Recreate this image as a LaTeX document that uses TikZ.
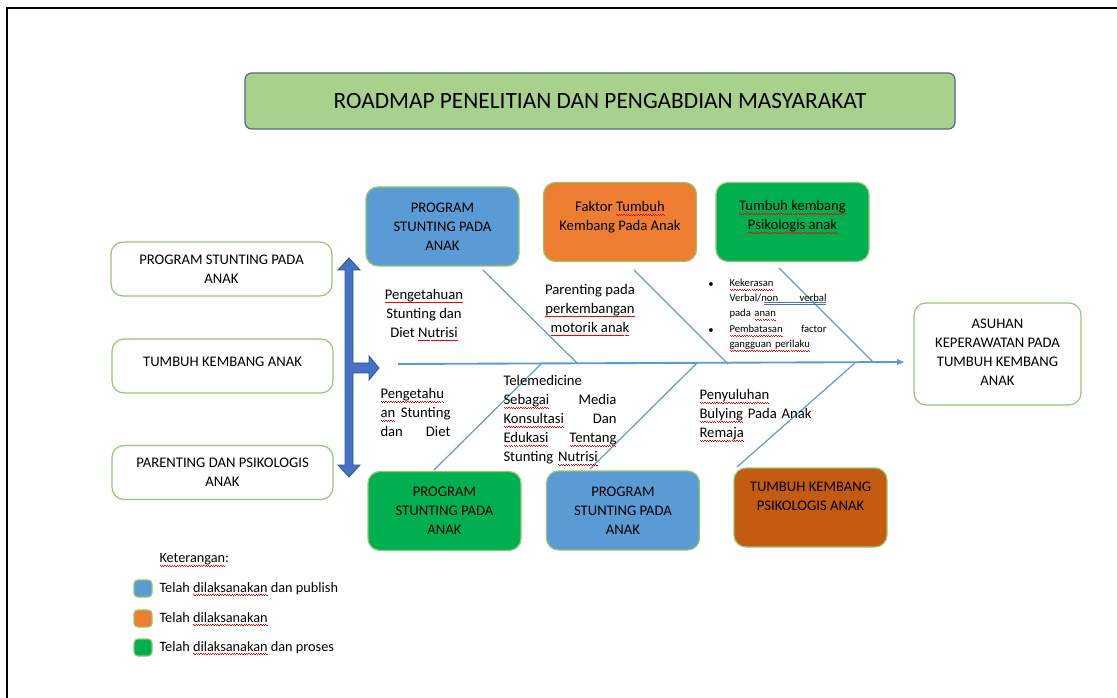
\documentclass[tikz,border=0pt]{standalone}
\usepackage{fontspec}
\setmainfont{Carlito}
\usetikzlibrary{arrows.meta}

\newsavebox\wavebox
\newcommand\wavepiece{\hbox{\rule[-2.2pt]{0.9pt}{0.4pt}\rule[-2.9pt]{0.9pt}{0.4pt}}}
\newcommand\spellwave[1]{\leavevmode\sbox\wavebox{#1}\rlap{\hbox to\wd\wavebox{\color{red}\xleaders\wavepiece\hfill}}\usebox\wavebox}
\newcommand\roadfont{\fontsize{11}{14.25}\selectfont}
\newcommand\roadsmall{\fontsize{8}{11}\selectfont}
\newcommand\roadkey{\fontsize{10.7}{12}\selectfont}
\newcommand\roadtitle{\fontsize{17.5}{20}\selectfont}

\definecolor{boxline}{RGB}{146,200,110}
\definecolor{boneblue}{RGB}{91,155,213}
\definecolor{doneblue}{RGB}{91,155,213}
\definecolor{doneorange}{RGB}{237,125,49}
\definecolor{donegreen}{RGB}{0,176,80}
\definecolor{darkorange}{RGB}{197,90,17}

\tikzset{every picture/.style={line width=0.75pt}}
\tikzset{
  box/.style={draw=boxline, line width=0.9pt, rounded corners=9pt, align=center, inner sep=0pt, font=\roadfont},
  sidebox/.style={box, fill=white, minimum width=165.75pt, minimum height=40.5pt},
  fishbox/.style={box, minimum width=114.75pt, minimum height=59.25pt},
  keybox/.style={box, rounded corners=3pt, minimum width=13.5pt, minimum height=12.75pt},
  bone/.style={draw=boneblue, line width=0.9pt},
  txt/.style={inner sep=0pt, font=\roadfont, align=center},
  jtxt/.style={inner sep=0pt, font=\roadfont, align=left, anchor=north west},
}

\begin{document}
\begin{tikzpicture}[x=0.75pt,y=0.75pt,yscale=-1,xscale=1]
\useasboundingbox (0,0) rectangle (1117,698);

% frame
\draw [line width=1.5pt] (1117,8) -- (7,8) -- (7,698);

% title
\node [box, draw={rgb, 255:red, 85; green, 104; blue, 122}, fill={rgb, 255:red, 169; green, 209; blue, 142}, rounded corners=5pt, minimum width=532.5pt, minimum height=42pt, font=\roadtitle] (title) at (600,101) {ROADMAP PENELITIAN DAN PENGABDIAN MASYARAKAT};

% left column
\node [sidebox] (prog) at (221.5,269) {PROGRAM STUNTING PADA\\ANAK};
\node [sidebox] (tumbuh) at (222.5,366) {};
\node [txt] (tumbuhT) at (222.5,362) {TUMBUH KEMBANG ANAK};
\node [sidebox] (parent) at (222.5,472.5) {PARENTING DAN PSIKOLOGIS\\ANAK};

% double arrow with branch
\draw [draw={rgb, 255:red, 47; green, 82; blue, 143}, fill={rgb, 255:red, 68; green, 114; blue, 196}, line width=0.6pt]
  (349,258) -- (360,270) -- (353,270) -- (353,363) -- (369,363) -- (369,356) -- (379,368) -- (369,380) -- (369,373) -- (353,373) -- (353,465) -- (360,465) -- (349,477) -- (338,465) -- (345,465) -- (345,270) -- (338,270) -- cycle;

% right box
\node [box, fill=white, minimum width=125.25pt, minimum height=76.5pt] (asuhan) at (997.5,354) {};
\node [txt] (asuhanT) at (997.5,352) {ASUHAN\\KEPERAWATAN PADA\\TUMBUH KEMBANG\\ANAK};

% spine
\coordinate (spineL) at (398,364);
\coordinate (spineR) at (905,362);
\draw [bone, line width=1.4pt, -{Latex[length=6pt,width=5pt]}] (spineL) -- (spineR);

% top boxes
\node [fishbox, fill=doneblue] (topA) at (442.5,226.5) {PROGRAM\\STUNTING PADA\\ANAK};
\node [fishbox, fill=doneorange] (topB) at (620,222) {};
\node [txt] (topBT) at (620,217) {Faktor \spellwave{Tumbuh}\\Kembang Pada Anak};
\node [fishbox, fill=donegreen] (topC) at (792.5,222) {};
\node [txt] (topCT) at (792.5,217) {\spellwave{Tumbuh kembang}\\\spellwave{Psikologis anak}};

% bottom boxes
\node [fishbox, fill=donegreen] (botA) at (444.5,511) {PROGRAM\\STUNTING PADA\\ANAK};
\node [fishbox, fill=doneblue] (botB) at (623,510.5) {PROGRAM\\STUNTING PADA\\ANAK};
\node [fishbox, fill=darkorange] (botC) at (810.5,507.5) {};
\node [txt] (botCT) at (810.5,496.5) {TUMBUH KEMBANG\\PSIKOLOGIS ANAK};

% bones
\coordinate (b1a) at (483,270); \coordinate (b1b) at (578,364);
\coordinate (b2a) at (634,270); \coordinate (b2b) at (728,364);
\coordinate (b3a) at (779,268); \coordinate (b3b) at (873,362);
\coordinate (b4a) at (541,364); \coordinate (b4b) at (434,470);
\coordinate (b5a) at (697,363); \coordinate (b5b) at (590,469);
\coordinate (b6a) at (855,363); \coordinate (b6b) at (737,467);
\draw [bone] (b1a) -- (b1b);
\draw [bone] (b2a) -- (b2b);
\draw [bone] (b3a) -- (b3b);
\draw [bone] (b4a) -- (b4b);
\draw [bone] (b5a) -- (b5b);
\draw [bone] (b6a) -- (b6b);

% bone texts, top
\node [txt] (pengA) at (424,315) {\spellwave{Pengetahuan}\\Stunting dan\\Diet \spellwave{Nutrisi}};
\node [txt] (parA) at (590,310) {Parenting pada\\\spellwave{perkembangan}\\\spellwave{motorik anak}};
\node [inner sep=0pt, font=\roadsmall] (dotA) at (711,285) {\textbullet};
\node [inner sep=0pt, font=\roadsmall] (dotB) at (711,331) {\textbullet};
\node [jtxt, font=\roadsmall, text width=72.75pt] (kerasA) at (729,279) {\spellwave{Kekerasan}\\Verbal/non\hfill verbal\\pada \spellwave{anan}};
\node [jtxt, font=\roadsmall, text width=72.75pt] (batasA) at (729,325) {\spellwave{Pembatasan}\hfill factor\\\spellwave{gangguan perilaku}};
\draw [draw={rgb, 255:red, 68; green, 114; blue, 196}, line width=0.5pt] (764,302) -- (826,302) (764,304.5) -- (826,304.5);

% bone texts, bottom
\node [jtxt, text width=52.5pt] (pengB) at (380,388) {\spellwave{Pengetahu}\\\spellwave{an}\hfill Stunting\\dan\hfill Diet};
\node [jtxt, text width=84.75pt] (teleA) at (503,375) {Telemedicine\\\spellwave{Sebagai}\hfill Media\\\spellwave{Konsultasi}\hfill Dan\\\spellwave{Edukasi}\hfill\spellwave{Tentang}\\Stunting \spellwave{Nutrisi}};
\node [jtxt, text width=84pt] (penyA) at (699,389) {\spellwave{Penyuluhan}\\\spellwave{Bulying}\hfill Pada\hfill Anak\\\spellwave{Remaja}};

% legend
\node [inner sep=0pt, font=\roadkey, anchor=west] (ket) at (159,560) {\spellwave{Keterangan}:};
\node [keybox, fill=doneblue] (keyA) at (143,588.5) {};
\node [keybox, fill=doneorange] (keyB) at (143,618.5) {};
\node [keybox, fill=donegreen] (keyC) at (143,647.5) {};
\node [inner sep=0pt, font=\roadkey, anchor=west] (keyAT) at (159,589) {Telah \spellwave{dilaksanakan} dan publish};
\node [inner sep=0pt, font=\roadkey, anchor=west] (keyBT) at (159,619) {Telah \spellwave{dilaksanakan}};
\node [inner sep=0pt, font=\roadkey, anchor=west] (keyCT) at (159,648) {Telah \spellwave{dilaksanakan} dan proses};

\end{tikzpicture}
\end{document}
